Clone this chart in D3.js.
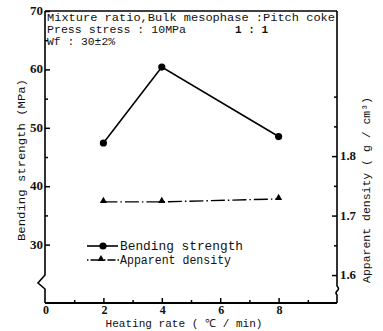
<!DOCTYPE html>
<html><head><meta charset="utf-8">
<script src="https://cdn.jsdelivr.net/npm/d3@7"></script>
<style>body{margin:0;background:#fff}svg{display:block}text{font-family:"Liberation Mono","DejaVu Sans Mono",monospace;fill:#111}text.num{font-family:"Liberation Serif","DejaVu Serif",serif}</style>
</head><body>
<svg id="c" width="383" height="331"></svg>
<script>
const heatingRate = [2, 4, 8];
const bendingStrength = [47.4, 60.4, 48.5];
const apparentDensity = [1.723, 1.723, 1.728];
const xTicks = [0, 2, 4, 6, 8];
const xMinor = [1, 3, 5, 7, 9];
const yLeftTicks = [30, 40, 50, 60, 70];
const yLeftMinor = [35, 45, 55, 65];
const yRightTicks = [1.6, 1.7, 1.8];
const yRightMinor = [1.65, 1.75, 1.85, 1.9];
const notes = ["Mixture ratio,Bulk mesophase :Pitch coke", "Press stress : 10MPa", "Wf : 30±2%"];
const ratioText = "1 : 1";
const legendLabels = ["Bending strength", "Apparent density"];

const svg = d3.select("#c");
const L = 45, R = 337, T = 11, B = 303;
const x = d3.scaleLinear().domain([0, 10]).range([L, R]);
const yL = d3.scaleLinear().domain([20, 70]).range([B, T]);
const yR = d3.scaleLinear().domain([1.553, 2.044]).range([B, T]);

const g = svg.append("g");
g.append("line").attr("x1", L).attr("x2", R).attr("y1", T).attr("y2", T).attr("stroke", "#000").attr("stroke-width", 1.6);
g.append("line").attr("x1", L).attr("x2", R).attr("y1", B).attr("y2", B).attr("stroke", "#000").attr("stroke-width", 1.8);
g.append("path").attr("d", `M${L},${T} V275 L${L-7},283 L${L},289 V${B}`).attr("fill", "none").attr("stroke", "#000").attr("stroke-width", 1.6);
g.append("path").attr("d", `M${R},${T} V286 Q${R+3},289 ${R},291 Q${R-2},293 ${R},295 V${B}`).attr("fill", "none").attr("stroke", "#000").attr("stroke-width", 1.6);

const axL = d3.axisRight(yL).tickValues(yLeftTicks).tickSize(5).tickFormat("");
const axLm = d3.axisRight(yL).tickValues(yLeftMinor).tickSize(3).tickFormat("");
const axR = d3.axisLeft(yR).tickValues(yRightTicks).tickSize(5).tickFormat("");
const axRm = d3.axisLeft(yR).tickValues(yRightMinor).tickSize(3).tickFormat("");
const axX = d3.axisTop(x).tickValues(xTicks.slice(1)).tickSize(5).tickFormat("");
const axXm = d3.axisTop(x).tickValues(xMinor).tickSize(3).tickFormat("");
function drawAx(a, tx, ty) {
  const s = g.append("g").attr("transform", `translate(${tx},${ty})`).call(a);
  s.select(".domain").remove();
  s.selectAll("line").attr("stroke", "#000").attr("stroke-width", 1.5);
}
drawAx(axL, L, 0); drawAx(axLm, L, 0);
drawAx(axR, R, 0); drawAx(axRm, R, 0);
drawAx(axX, 0, B); drawAx(axXm, 0, B);

g.selectAll(".ylt").data(yLeftTicks).join("text").attr("class", "num").attr("x", L - 2).attr("y", d => yL(d) + 4)
  .attr("text-anchor", "end").attr("font-size", 13).attr("font-weight", "bold").text(d => d);
g.selectAll(".yrt").data(yRightTicks).join("text").attr("class", "num").attr("x", R + 3).attr("y", d => yR(d) + 4)
  .attr("font-size", 12).attr("font-weight", "bold").attr("textLength", 16).attr("lengthAdjust", "spacingAndGlyphs").text(d => d.toFixed(1));
g.selectAll(".xt").data(xTicks).join("text").attr("class", "num").attr("x", d => x(d) + 1).attr("y", B + 11)
  .attr("text-anchor", "middle").attr("font-size", 12).attr("font-weight", "bold").text(d => d);

g.append("text").attr("transform", "translate(25,160) rotate(-90)").attr("text-anchor", "middle")
  .attr("font-size", 11).attr("textLength", 162).attr("lengthAdjust", "spacingAndGlyphs").text("Bending strength (MPa)");
g.append("text").attr("transform", "translate(370,190) rotate(-90)").attr("text-anchor", "middle")
  .attr("font-size", 11).attr("textLength", 186).attr("lengthAdjust", "spacingAndGlyphs").text("Apparent density ( g / cm³)");
g.append("text").attr("x", 184).attr("y", 327).attr("text-anchor", "middle")
  .attr("font-size", 11).attr("textLength", 157).attr("lengthAdjust", "spacingAndGlyphs").text("Heating rate ( ℃ / min)");

const noteY = [21, 33, 45];
const noteW = [288, 139, 68];
notes.forEach((t, i) => {
  g.append("text").attr("x", 47).attr("y", noteY[i]).attr("font-size", 11)
    .attr("textLength", noteW[i]).attr("lengthAdjust", "spacingAndGlyphs").text(t);
});
g.append("text").attr("x", 235).attr("y", 33).attr("font-size", 11).attr("font-weight", "bold").text(ratioText);

const line1 = d3.line().x((d, i) => x(heatingRate[i])).y(d => yL(d));
g.append("path").attr("d", line1(bendingStrength)).attr("fill", "none").attr("stroke", "#000").attr("stroke-width", 1.6);
g.selectAll(".pt").data(bendingStrength).join("circle").attr("cx", (d, i) => x(heatingRate[i])).attr("cy", d => yL(d)).attr("r", 3.6).attr("fill", "#000");

const line2 = d3.line().x((d, i) => x(heatingRate[i])).y(d => yR(d));
g.append("path").attr("d", line2(apparentDensity)).attr("fill", "none").attr("stroke", "#000").attr("stroke-width", 1.4).attr("stroke-dasharray", "14,3,1.5,3");
const tri = d3.symbol().type(d3.symbolTriangle).size(22);
g.selectAll(".tr").data(apparentDensity).join("path").attr("d", tri).attr("transform", (d, i) => `translate(${x(heatingRate[i])},${yR(d) - 1})`).attr("fill", "#000");

g.append("line").attr("x1", 87).attr("x2", 118).attr("y1", 246).attr("y2", 246).attr("stroke", "#000").attr("stroke-width", 1.6);
g.append("circle").attr("cx", 103).attr("cy", 246).attr("r", 3.6).attr("fill", "#000");
g.append("line").attr("x1", 87).attr("x2", 119).attr("y1", 260).attr("y2", 260).attr("stroke", "#000").attr("stroke-width", 1.4).attr("stroke-dasharray", "1.5,2,8,2,1.5,2");
g.append("path").attr("d", tri).attr("transform", "translate(101,259)").attr("fill", "#000");
legendLabels.forEach((t, i) => {
  g.append("text").attr("x", 120).attr("y", 250 + i * 14).attr("font-size", 12)
    .attr("textLength", i === 0 ? 123 : 111).attr("lengthAdjust", "spacingAndGlyphs").text(t);
});
</script>
</body></html>
